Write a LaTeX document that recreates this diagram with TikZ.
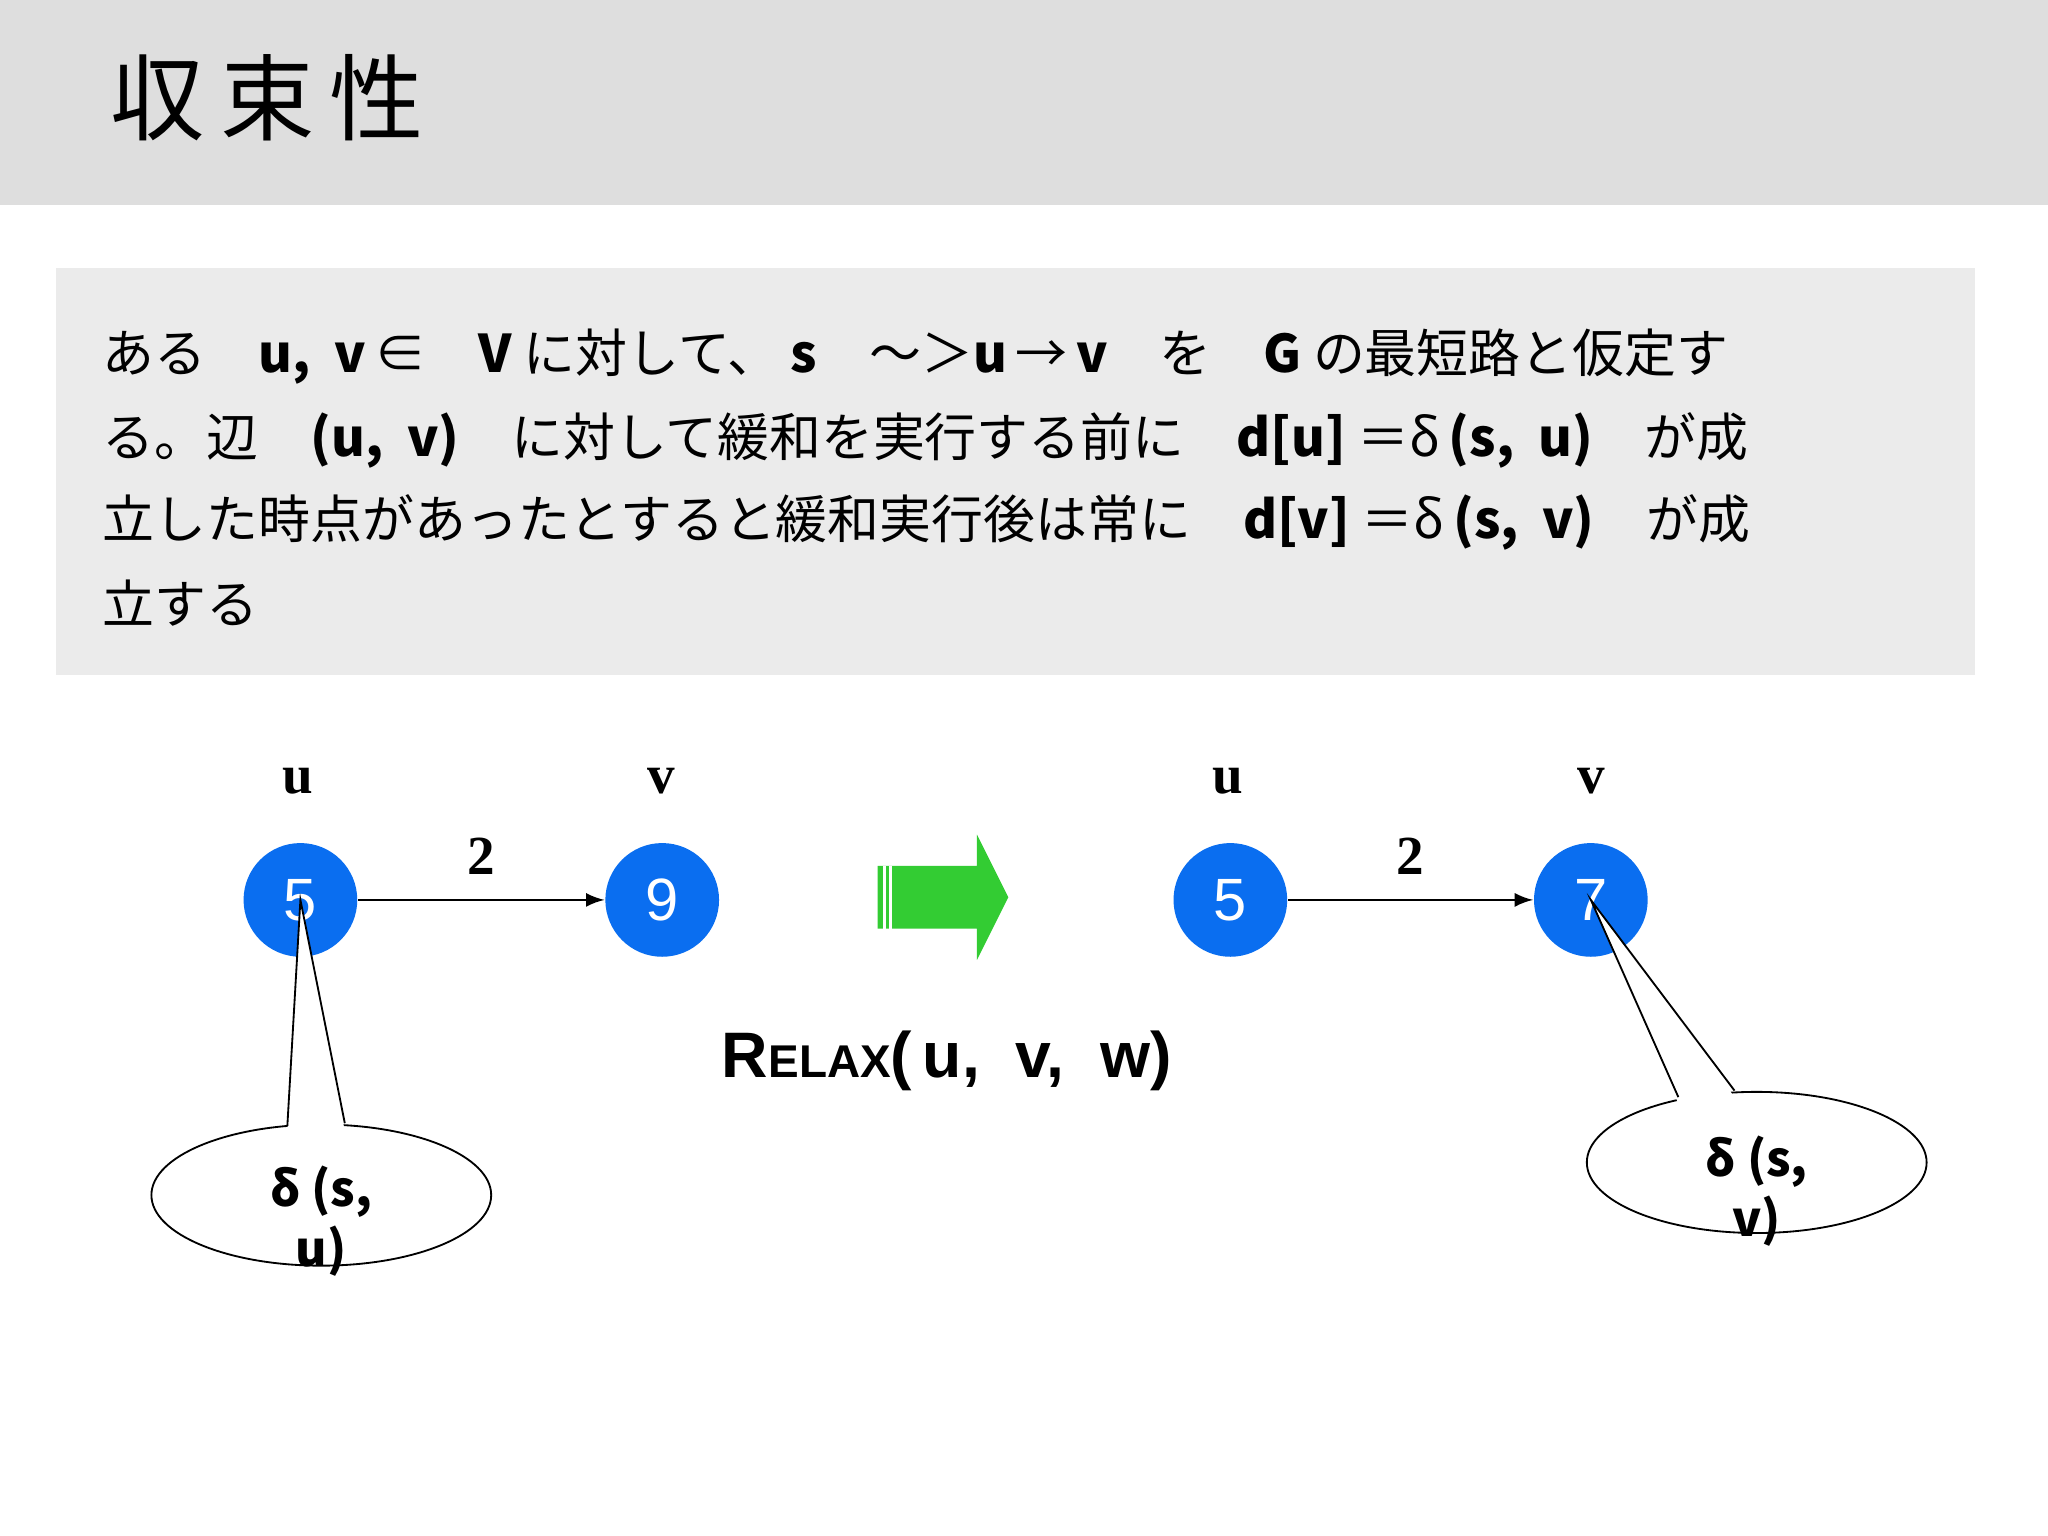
\documentclass[tikz,border=0pt]{standalone}
\usepackage{fontspec}
\setmainfont{Noto Sans CJK JP}
\newfontfamily\cjk{Noto Sans CJK JP}
\newfontfamily\lsans{Liberation Sans}
\newfontfamily\serifb{Liberation Serif}
\usetikzlibrary{shapes.geometric}
\definecolor{hdr}{HTML}{DEDEDE}
\definecolor{boxg}{HTML}{EBEBEB}
\definecolor{nblue}{HTML}{0A6EF0}
\definecolor{agreen}{HTML}{33CC33}
\begin{document}
\begin{tikzpicture}[x=0.01cm,y=-0.01cm,
  vert/.style={circle,fill=nblue,minimum size=0.87cm,inner sep=0pt,text=white,font=\lsans\fontsize{13}{13}\selectfont},
  vlab/.style={font=\serifb\bfseries\fontsize{12}{12}\selectfont},
  body/.style={anchor=west,font=\cjk\fontsize{11.3}{11.3}\selectfont,inner sep=0pt},
  callout/.style={draw,fill=white,ellipse,minimum width=2.6cm,minimum height=1.08cm,inner sep=0pt},
  ctext/.style={align=center,font=\cjk\bfseries\fontsize{10.5}{13}\selectfont}]
\useasboundingbox (0,0) rectangle (1568,1176);
\fill[white] (0,0) rectangle (1568,1176);
\fill[hdr] (0,0) rectangle (1568,157);
\node[anchor=west,font=\cjk\fontsize{20.5}{20.5}\selectfont] (title) at (72,75) {収\,束\,性};
\fill[boxg] (43,205) rectangle (1512,517);
\node[body] (l1) at (78,273) {ある　\textbf{u,\ \ v}\,∈　\textbf{V} に対して、 \textbf{s}　～＞\textbf{u}\,→\,\textbf{v}　を　\textbf{G} の最短路と仮定す};
\node[body] (l2) at (78,337) {る。辺　\textbf{(u,\ \ v)}　に対して緩和を実行する前に　\textbf{d[u]}\ ＝δ\,\textbf{(s,\ \ u)}　が成};
\node[body] (l3) at (78,400) {立した時点があったとすると緩和実行後は常に　\textbf{d[v]}\ ＝δ\,\textbf{(s,\ \ v)}　が成};
\node[body] (l4) at (78,462) {立する};
% left graph
\node[vert] (u1) at (230,689) {5};
\node[vert] (v1) at (507,689) {9};
\node[vlab] at (228,598) {u};
\node[vlab] at (506,598) {v};
\draw[-latex] (u1) -- node[above=2pt,font=\serifb\bfseries\fontsize{12}{12}\selectfont]{2} (v1);
% right graph
\node[vert] (u2) at (942,689) {5};
\node[vert] (v2) at (1218,689) {7};
\node[vlab] at (940,598) {u};
\node[vlab] at (1218,598) {v};
\draw[-latex] (u2) -- node[above=2pt,font=\serifb\bfseries\fontsize{12}{12}\selectfont]{2} (v2);
% green arrow
\fill[agreen] (672,663) -- (748,663) -- (748,639) -- (772,687) -- (748,735) -- (748,711) -- (672,711) -- cycle;
\fill[white] (676,663) rectangle (678,711);
\fill[white] (681,663) rectangle (683,711);
\node[font=\lsans\bfseries\fontsize{14}{14}\selectfont] (relax) at (725,812) {R{\fontsize{10}{10}\selectfont ELAX}(\,u,\ \ v,\ \ w)};
% callouts
\node[callout] (c1) at (246,915) {};
\fill[white] (u1.center) -- (220,866) -- (264,866) -- cycle;
\draw (220,862) -- (u1.center) -- (264,860);
\node[ctext] at (246,935) {δ\ (s,\\u)};
\node[callout] (c2) at (1345,890) {};
\fill[white] (v2.center) -- (1285,845) -- (1328,840) -- cycle;
\draw (1285,840) -- (v2.center) -- (1328,835);
\node[ctext] at (1345,912) {δ\ (s,\\v)};
\end{tikzpicture}
\end{document}
